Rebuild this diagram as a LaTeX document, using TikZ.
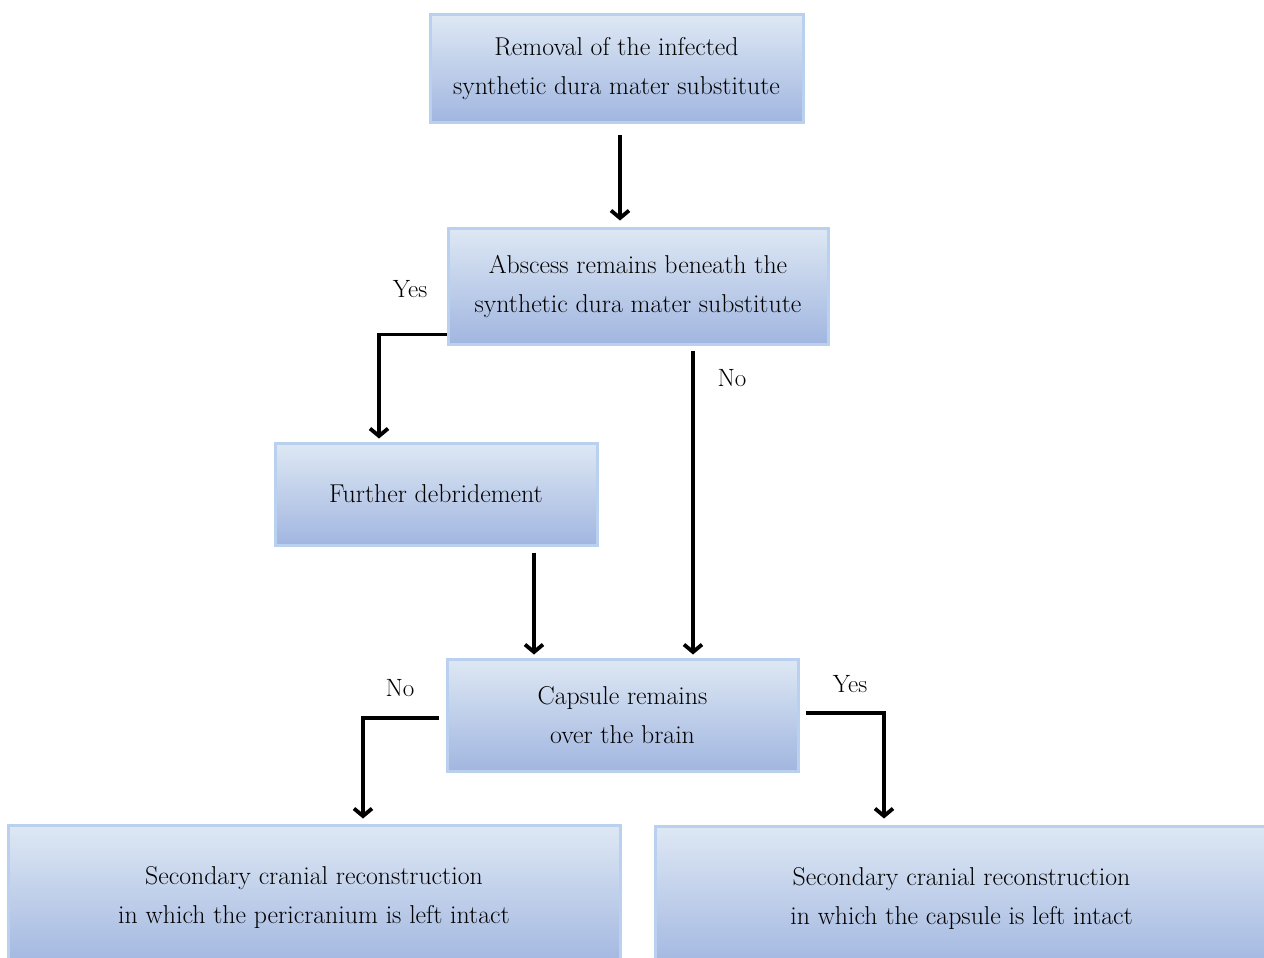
\documentclass[tikz,border=0pt]{standalone}
\usetikzlibrary{arrows.meta,calc}
\definecolor{boxtop}{HTML}{DEE8F4}
\definecolor{boxbot}{HTML}{A1B6E0}
\definecolor{boxline}{HTML}{B9D1EE}
\tikzset{
  box/.style={draw=boxline, line width=3pt, top color=boxtop, bottom color=boxbot,
    align=center, font=\fontsize{25.8}{39}\selectfont, inner sep=0pt},
  arr/.style={line width=3.8pt, -{Straight Barb[length=7.5pt,width=18pt]}},
  lbl/.style={font=\fontsize{25}{28}\selectfont, inner sep=0pt},
}
\begin{document}
\begin{tikzpicture}[x=1pt,y=-1pt]
\clip (0,0) rectangle (1264,958);
\fill[white] (0,0) rectangle (1264,958);
\node[box, minimum width=373pt, minimum height=107pt] (b1) at (616.5,68.5)
  {Removal of the infected\\synthetic dura mater substitute};
\node[box, minimum width=380pt, minimum height=116pt] (b2) at (638,286)
  {Abscess remains beneath the\\synthetic dura mater substitute};
\node[box, minimum width=322pt, minimum height=102pt] (b3) at (436,494)
  {Further debridement};
\node[box, minimum width=351pt, minimum height=112pt] (b4) at (622.5,715)
  {Capsule remains\\over the brain};
\node[box, minimum width=612pt, minimum height=144pt] (b5) at (314,897)
  {Secondary cranial reconstruction\\in which the pericranium is left intact};
\node[box, minimum width=613pt, minimum height=144pt] (b6) at (961.5,898)
  {Secondary cranial reconstruction\\in which the capsule is left intact};
\node[lbl] (yes1) at (410,289) {Yes};
\node[lbl] (no1) at (732,378) {No};
\node[lbl] (no2) at (400,688) {No};
\node[lbl] (yes2) at (850,684) {Yes};
\coordinate (c1) at ([xshift=3.5pt,yshift=-11pt]b1.south);
\draw[arr] (c1) -- ([yshift=6pt]c1 |- b2.north);
\draw[arr] ([yshift=11pt]b2.south west) -| ([xshift=-57pt,yshift=3pt]b3.north);
\coordinate (c3) at ([xshift=98pt,yshift=-6pt]b3.south);
\draw[arr] (c3) -- ([yshift=3pt]c3 |- b4.north);
\coordinate (c4) at ([xshift=55pt,yshift=-5pt]b2.south);
\draw[arr] (c4) -- ([yshift=3pt]c4 |- b4.north);
\draw[arr] ([xshift=-7pt,yshift=-3pt]b4.west) -| ([xshift=49pt,yshift=5pt]b5.north);
\draw[arr] ([xshift=6pt,yshift=2pt]b4.east) -| ([xshift=-77.5pt,yshift=6pt]b6.north);
\end{tikzpicture}
\end{document}
